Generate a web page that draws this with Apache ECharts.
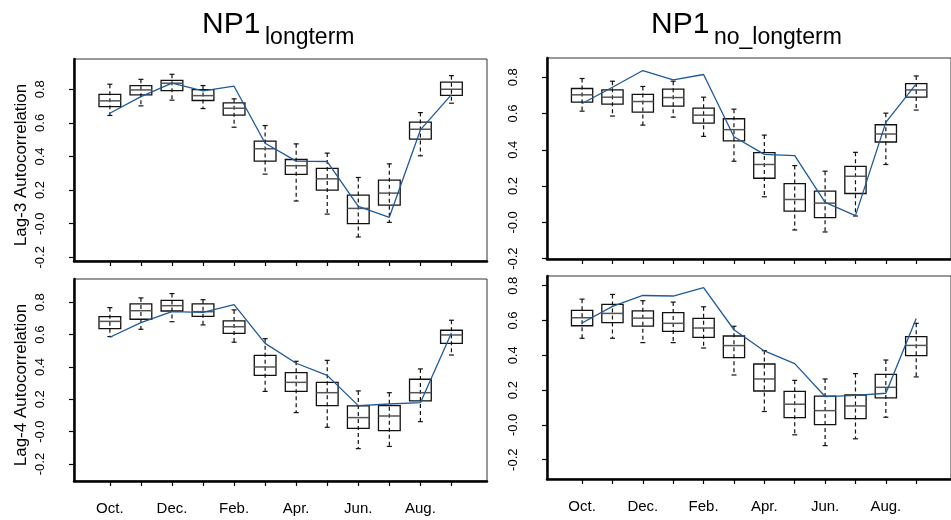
<!DOCTYPE html>
<html>
<head>
<meta charset="utf-8">
<script src="https://cdn.jsdelivr.net/npm/echarts@6/dist/echarts.min.js"></script>
<style>
html,body{margin:0;padding:0;background:#fff;}
#chart{width:951px;height:520px;}
</style>
</head>
<body>
<div id="chart"></div>
<script>
// Categories
var months = ['Oct.','Nov.','Dec.','Jan.','Feb.','Mar.','Apr.','May','Jun.','Jul.','Aug.','Sep.'];
var labelPositions = [1,3,5,7,9,11];
var yTicks = [-0.2, 0, 0.2, 0.4, 0.6, 0.8];

// Top-left: Lag-3, NP1 longterm
var tlMin = [0.644, 0.701, 0.735, 0.685, 0.574, 0.295, 0.135, 0.057, -0.079, 0.008, 0.404, 0.717];
var tlQ1  = [0.697, 0.766, 0.792, 0.733, 0.646, 0.372, 0.293, 0.200, 0.000, 0.111, 0.503, 0.764];
var tlMed = [0.731, 0.796, 0.836, 0.762, 0.687, 0.446, 0.345, 0.267, 0.091, 0.182, 0.562, 0.800];
var tlQ3  = [0.770, 0.822, 0.853, 0.798, 0.719, 0.491, 0.382, 0.329, 0.170, 0.259, 0.604, 0.842];
var tlMax = [0.830, 0.859, 0.889, 0.822, 0.743, 0.584, 0.475, 0.420, 0.275, 0.356, 0.661, 0.881];
var tlLine = [0.657, 0.756, 0.836, 0.790, 0.818, 0.479, 0.372, 0.370, 0.103, 0.038, 0.558, 0.768];

// Top-right: Lag-3, NP1 no_longterm
var trMin = [0.613, 0.586, 0.536, 0.580, 0.474, 0.337, 0.141, -0.042, -0.053, 0.035, 0.319, 0.619];
var trQ1  = [0.663, 0.652, 0.608, 0.641, 0.547, 0.449, 0.243, 0.062, 0.026, 0.159, 0.443, 0.690];
var trMed = [0.703, 0.690, 0.666, 0.688, 0.591, 0.511, 0.319, 0.126, 0.106, 0.254, 0.487, 0.730];
var trQ3  = [0.738, 0.730, 0.705, 0.734, 0.630, 0.571, 0.384, 0.214, 0.172, 0.309, 0.538, 0.765];
var trMax = [0.793, 0.778, 0.749, 0.778, 0.690, 0.624, 0.481, 0.313, 0.282, 0.386, 0.602, 0.807];
var trLine = [0.655, 0.745, 0.837, 0.785, 0.815, 0.472, 0.375, 0.368, 0.110, 0.037, 0.551, 0.763];

// Bottom-left: Lag-4, NP1 longterm
var blMin = [0.588, 0.633, 0.680, 0.660, 0.553, 0.249, 0.118, 0.027, -0.105, -0.091, 0.062, 0.474];
var blQ1  = [0.637, 0.695, 0.746, 0.713, 0.608, 0.348, 0.249, 0.161, 0.021, 0.006, 0.190, 0.546];
var blMed = [0.682, 0.748, 0.779, 0.742, 0.649, 0.400, 0.305, 0.241, 0.087, 0.097, 0.241, 0.598];
var blQ3  = [0.711, 0.790, 0.812, 0.790, 0.685, 0.472, 0.365, 0.305, 0.159, 0.161, 0.324, 0.627];
var blMax = [0.767, 0.827, 0.854, 0.816, 0.753, 0.575, 0.435, 0.441, 0.252, 0.241, 0.388, 0.689];
var blLine = [0.584, 0.674, 0.742, 0.738, 0.786, 0.546, 0.423, 0.348, 0.161, 0.171, 0.179, 0.610];

// Bottom-right: Lag-4, NP1 no_longterm
var brMin = [0.498, 0.498, 0.473, 0.473, 0.442, 0.287, 0.077, -0.057, -0.119, -0.080, 0.044, 0.276];
var brQ1  = [0.570, 0.588, 0.568, 0.538, 0.503, 0.387, 0.195, 0.042, 0.002, 0.036, 0.155, 0.398];
var brMed = [0.616, 0.641, 0.614, 0.584, 0.557, 0.456, 0.264, 0.119, 0.082, 0.109, 0.216, 0.457];
var brQ3  = [0.658, 0.693, 0.656, 0.645, 0.612, 0.511, 0.350, 0.193, 0.165, 0.172, 0.291, 0.507];
var brMax = [0.723, 0.750, 0.714, 0.706, 0.679, 0.567, 0.427, 0.256, 0.264, 0.295, 0.373, 0.584];
var brLine = [0.586, 0.681, 0.744, 0.741, 0.789, 0.547, 0.425, 0.352, 0.163, 0.170, 0.182, 0.611];

var FONT = '"Liberation Sans", Arial, Helvetica, sans-serif';

var panels = [
  {grid:{left:74, top:59, width:413, height:202}, ymin:-0.222, ymax:0.98, name:'Lag-3 Autocorrelation', xlab:false,
   mn:tlMin, q1:tlQ1, md:tlMed, q3:tlQ3, mx:tlMax, ln:tlLine},
  {grid:{left:547, top:58, width:413, height:201}, ymin:-0.202, ymax:0.906, name:'', xlab:false,
   mn:trMin, q1:trQ1, md:trMed, q3:trQ3, mx:trMax, ln:trLine},
  {grid:{left:74, top:279, width:413, height:202}, ymin:-0.305, ymax:0.944, name:'Lag-4 Autocorrelation', xlab:true,
   mn:blMin, q1:blQ1, md:blMed, q3:blQ3, mx:blMax, ln:blLine},
  {grid:{left:547, top:276, width:413, height:203}, ymin:-0.311, ymax:0.856, name:'', xlab:true,
   mn:brMin, q1:brQ1, md:brMed, q3:brQ3, mx:brMax, ln:brLine}
];

function renderBox(params, api) {
  var x = api.value(0);
  var pMin = api.coord([x, api.value(1)]);
  var pQ1 = api.coord([x, api.value(2)]);
  var pMed = api.coord([x, api.value(3)]);
  var pQ3 = api.coord([x, api.value(4)]);
  var pMax = api.coord([x, api.value(5)]);
  var hw = api.size([0.35, 0])[0];
  var cx = pMed[0];
  var cap = 2.5;
  var stroke = {stroke:'#111', lineWidth:1.2, fill:null};
  return {
    type:'group',
    children:[
      {type:'line', shape:{x1:cx, y1:pMax[1], x2:cx, y2:pMin[1]}, style:{stroke:'#111', lineWidth:1.2, lineDash:[4,3]}},
      {type:'line', shape:{x1:cx-cap, y1:pMax[1], x2:cx+cap, y2:pMax[1]}, style:stroke},
      {type:'line', shape:{x1:cx-cap, y1:pMin[1], x2:cx+cap, y2:pMin[1]}, style:stroke},
      {type:'rect', shape:{x:cx-hw, y:pQ3[1], width:2*hw, height:pQ1[1]-pQ3[1]}, style:{stroke:'#111', lineWidth:1.3, fill:null}},
      {type:'line', shape:{x1:cx-hw, y1:pMed[1], x2:cx+hw, y2:pMed[1]}, style:{stroke:'#555', lineWidth:1.5}}
    ]
  };
}

var grids = [], xAxes = [], yAxes = [], series = [];
panels.forEach(function(p, i){
  grids.push(Object.assign({show:true, borderColor:'#333', borderWidth:1, backgroundColor:'transparent'}, p.grid));
  xAxes.push({
    type:'value', gridIndex:i, min:-0.155, max:13.145,
    axisLine:{show:true, onZero:false, lineStyle:{color:'#000', width:2.5}},
    axisTick:{show:true, customValues:months.map(function(m,k){return k+1;}), length:5, inside:false, lineStyle:{color:'#000', width:1.2}},
    axisLabel:{show:p.xlab, customValues:labelPositions, margin:20, fontSize:15, color:'#000', fontFamily:FONT,
      formatter:function(v){ return months[Math.round(v)-1] || ''; }},
    splitLine:{show:false}
  });
  yAxes.push({
    type:'value', gridIndex:i, min:p.ymin, max:p.ymax,
    name:p.name, nameLocation:'middle', nameGap:44, nameRotate:90,
    nameTextStyle:{fontSize:17, color:'#000', fontFamily:FONT, padding:[0,10,0,0]},
    axisLine:{show:true, onZero:false, lineStyle:{color:'#000', width:2.5}},
    axisTick:{show:true, customValues:yTicks, length:5, lineStyle:{color:'#000', width:1.2}},
    axisLabel:{show:true, customValues:yTicks, rotate:90, margin:27, fontSize:13, color:'#000', fontFamily:FONT,
      formatter:function(v){ return Math.abs(v) < 1e-9 ? '-0.0' : v.toFixed(1); }},
    splitLine:{show:false}
  });
  series.push({
    type:'custom', xAxisIndex:i, yAxisIndex:i,
    renderItem:renderBox,
    encode:{x:0, y:[1,2,3,4,5]},
    data:months.map(function(m,k){ return [k+1, p.mn[k], p.q1[k], p.md[k], p.q3[k], p.mx[k]]; }),
    z:2, silent:true
  });
  series.push({
    type:'line', xAxisIndex:i, yAxisIndex:i,
    data:p.ln.map(function(v,k){ return [k+1, v]; }),
    symbol:'none', lineStyle:{color:'#1f5a98', width:1.3}, z:3, silent:true
  });
});

var chart = echarts.init(document.getElementById('chart'), null, {renderer:'canvas'});
chart.setOption({
  animation:false,
  backgroundColor:'#fff',
  grid:grids, xAxis:xAxes, yAxis:yAxes, series:series,
  graphic:[
    {type:'text', left:202, top:10, style:{text:'NP1', font:'30px ' + FONT, fill:'#000'}},
    {type:'text', left:265, top:26, style:{text:'longterm', font:'23px ' + FONT, fill:'#000'}},
    {type:'text', left:651, top:10, style:{text:'NP1', font:'30px ' + FONT, fill:'#000'}},
    {type:'text', left:714, top:26, style:{text:'no_longterm', font:'23px ' + FONT, fill:'#000'}}
  ]
});
</script>
</body>
</html>
